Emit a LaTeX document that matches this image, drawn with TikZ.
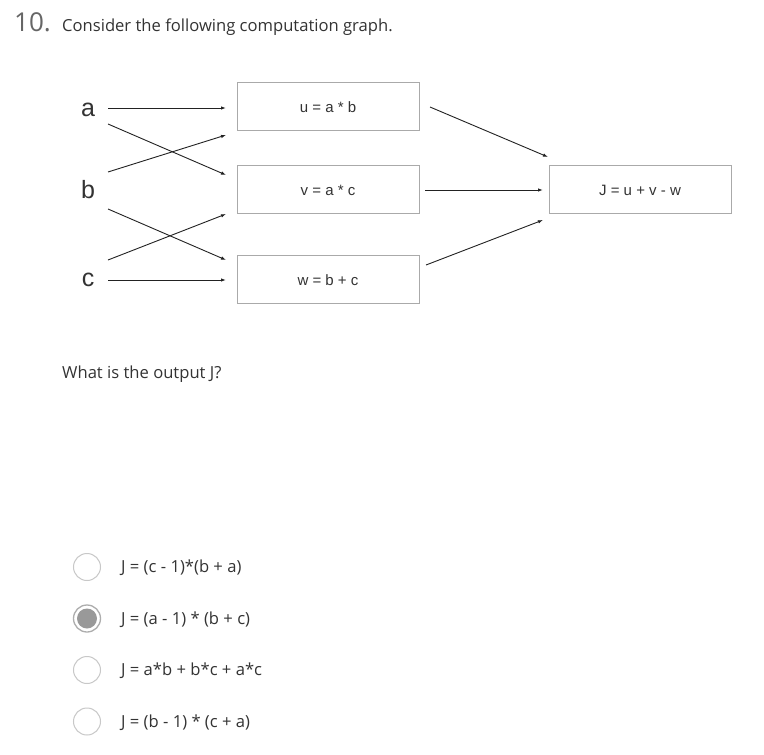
\documentclass[tikz,border=0pt]{standalone}
\usepackage{fontspec}
\setmainfont{Open Sans}
\newfontfamily\helv{Liberation Sans}
\usetikzlibrary{arrows.meta}
\definecolor{txt}{HTML}{333333}
\definecolor{boxline}{HTML}{AAAAAA}
\definecolor{radioline}{HTML}{C8C8C8}
\definecolor{radiofill}{HTML}{999999}
\definecolor{arr}{HTML}{222222}
\begin{document}
\begin{tikzpicture}[x=1pt,y=-1pt,
  opbox/.style={draw=boxline,line width=0.9pt,minimum width=182pt,minimum height=48pt,inner sep=0pt,
    font=\helv\fontsize{15}{17}\selectfont,text=txt},
  boxtext/.style={font=\helv\fontsize{15}{17}\selectfont,text=txt,inner sep=0pt},
  varlbl/.style={font=\helv\fontsize{25}{28}\selectfont,text=txt,anchor=base,inner sep=0pt},
  conn/.style={draw=arr,line width=0.9pt,-{Latex[length=5pt,width=3.5pt]}},
  radio/.style={circle,draw=radioline,line width=1pt,fill=white,minimum size=27pt,inner sep=0pt},
  opt/.style={font=\fontsize{16.6}{19}\selectfont,text=txt,anchor=base west,inner sep=0pt}]
\useasboundingbox[fill=white] (0,0) rectangle (764,755);

% header
\node[anchor=base west,inner sep=0pt,font=\fontsize{26}{30}\selectfont,text=txt!75] (num) at (14,31.5) {10.};
\node[anchor=base west,inner sep=0pt,font=\fontsize{16.6}{19}\selectfont,text=txt] (head) at (62,31.5) {Consider the following computation graph.};

% variables
\node[varlbl] (a) at (88,116.7) {a};
\node[varlbl] (b) at (88,198.3) {b};
\node[varlbl] (c) at (88,286.7) {c};

% operation boxes
\node[opbox] (u) at (328,106) {};
\node[opbox] (v) at (328,189.5) {};
\node[opbox] (w) at (328,279.5) {};
\node[opbox] (J) at (640,189.5) {};
\node[boxtext,anchor=base] (ut) at (328,112) {u = a * b};
\node[boxtext,anchor=base] (vt) at (328,195.5) {v = a * c};
\node[boxtext,anchor=base] (wt) at (328,285.5) {w = b + c};
\node[boxtext,anchor=base] (Jt) at (640,195.5) {J = u + v - w};

% connector end points
\coordinate (a1) at (108,108);  \coordinate (u1) at (226,108);
\coordinate (a2) at (108,124);  \coordinate (v1) at (226,175);
\coordinate (b1) at (108,172);  \coordinate (u2) at (226,135);
\coordinate (b2) at (108,209);  \coordinate (w1) at (226,260);
\coordinate (c1) at (108,260);  \coordinate (v2) at (226,214);
\coordinate (c2) at (108,280);  \coordinate (w2) at (226,280);
\coordinate (uo) at (430,107);  \coordinate (J1) at (548,157);
\coordinate (vo) at (425,190);  \coordinate (J2) at (543,190);
\coordinate (wo) at (426,265);  \coordinate (J3) at (543,220);

\draw[conn] (a1) -- (u1);
\draw[conn] (a2) -- (v1);
\draw[conn] (b1) -- (u2);
\draw[conn] (b2) -- (w1);
\draw[conn] (c1) -- (v2);
\draw[conn] (c2) -- (w2);
\draw[conn] (uo) -- (J1);
\draw[conn] (vo) -- (J2);
\draw[conn] (wo) -- (J3);

% question
\node[anchor=base west,inner sep=0pt,font=\fontsize{16.6}{19}\selectfont,text=txt] (q) at (62,378) {What is the output J?};

% options
\node[radio] (r1) at (87,567) {};
\node[radio,draw=radiofill!80,line width=1.3pt] (r2) at (87,618.5) {};
\node[circle,fill=radiofill,minimum size=20pt,inner sep=0pt] (r2dot) at (r2) {};
\node[radio] (r3) at (87,670) {};
\node[radio] (r4) at (87,721.5) {};
\node[opt] (o1) at (121,572.5) {J = (c - 1)*(b + a)};
\node[opt] (o2) at (121,624) {J = (a - 1) * (b + c)};
\node[opt] (o3) at (121,675.5) {J = a*b + b*c + a*c};
\node[opt] (o4) at (121,727) {J = (b - 1) * (c + a)};
\end{tikzpicture}
\end{document}
